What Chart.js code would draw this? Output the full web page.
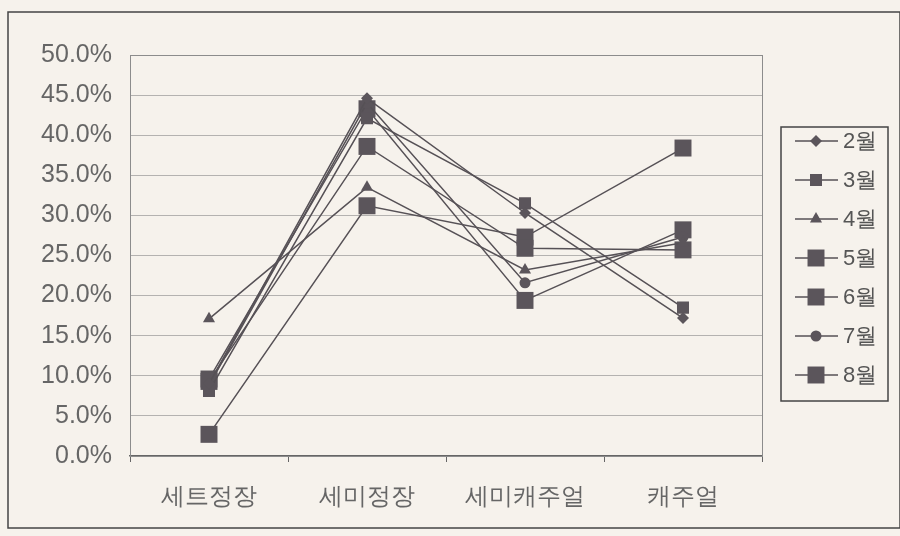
<!DOCTYPE html>
<html>
<head>
<meta charset="utf-8">
<script src="https://cdn.jsdelivr.net/npm/chart.js@4/dist/chart.umd.min.js"></script>
<style>
  body { margin: 0; background: #f6f2ec; }
  #wrap { width: 900px; height: 536px; }
</style>
</head>
<body>
<div id="wrap"><canvas id="grafico" width="900" height="536"></canvas></div>
<script>
// categorias e valores (%) por mês
var categorias = ['세트정장', '세미정장', '세미캐주얼', '캐주얼'];
var meses = ['2월', '3월', '4월', '5월', '6월', '7월', '8월'];
var fev = [9.0, 44.6, 30.3, 17.2];
var mar = [8.1, 42.1, 31.5, 18.5];
var abr = [17.1, 33.5, 23.2, 26.6];
var mai = [9.3, 38.6, 25.9, 25.7];
var jun = [2.7, 31.2, 27.3, 38.4];
var jul = [8.8, 44.0, 21.6, 27.3];
var ago = [9.6, 43.3, 19.4, 28.2];
var eixoY = [0, 5, 10, 15, 20, 25, 30, 35, 40, 45, 50];

var valores = [fev, mar, abr, mai, jun, jul, ago];
// estilo do marcador de cada série
var marcas = [
  { estilo: 'rectRot', raio: 6 },
  { estilo: 'rect', raio: 8.5 },
  { estilo: 'triangle', raio: 7 },
  { estilo: 'rect', raio: 12 },
  { estilo: 'rect', raio: 12 },
  { estilo: 'circle', raio: 5.5 },
  { estilo: 'rect', raio: 12 }
];

var corLinha = '#565156';
var corMarca = '#5b555b';
var fonte = '"Liberation Sans", Arial, sans-serif';

var datasets = meses.map(function (m, i) {
  return {
    label: m,
    data: valores[i],
    borderColor: corLinha,
    borderWidth: 1.5,
    pointStyle: marcas[i].estilo,
    pointRadius: marcas[i].raio,
    pointBackgroundColor: corMarca,
    pointBorderColor: corMarca,
    pointBorderWidth: 0,
    tension: 0
  };
});

// moldura externa, borda da área do gráfico e legenda com linha + marcador
var molduras = {
  id: 'molduras',
  beforeDraw: function (chart) {
    var ctx = chart.ctx;
    ctx.save();
    ctx.fillStyle = '#f6f2ec';
    ctx.fillRect(0, 0, chart.width, chart.height);
    ctx.strokeStyle = '#444';
    ctx.lineWidth = 1.5;
    ctx.strokeRect(8, 12, 892, 516);
    ctx.restore();
  },
  afterDraw: function (chart) {
    var ctx = chart.ctx;
    var a = chart.chartArea;
    ctx.save();
    ctx.strokeStyle = '#8c8c8c';
    ctx.lineWidth = 1;
    ctx.strokeRect(a.left + 0.5, a.top + 0.5, a.right - a.left, a.bottom - a.top);

    // legenda
    var lx = 781, ly = 127, lw = 107, lh = 274;
    ctx.strokeStyle = '#444';
    ctx.lineWidth = 1.5;
    ctx.strokeRect(lx, ly, lw, lh);
    ctx.font = '22px ' + fonte;
    ctx.textBaseline = 'middle';
    meses.forEach(function (m, i) {
      var y = 141 + i * 39;
      ctx.strokeStyle = corLinha;
      ctx.lineWidth = 1.5;
      ctx.beginPath();
      ctx.moveTo(795, y);
      ctx.lineTo(838, y);
      ctx.stroke();
      ctx.fillStyle = corMarca;
      ctx.strokeStyle = corMarca;
      Chart.helpers.drawPoint(ctx, {
        pointStyle: marcas[i].estilo,
        radius: marcas[i].raio,
        rotation: 0,
        borderWidth: 0
      }, 816, y);
      ctx.fillStyle = '#555';
      ctx.fillText(m, 843, y + 1);
    });
    ctx.restore();
  }
};

new Chart(document.getElementById('grafico'), {
  type: 'line',
  data: { labels: categorias, datasets: datasets },
  plugins: [molduras],
  options: {
    responsive: false,
    animation: false,
    layout: { padding: { left: 0, top: 55, right: 138, bottom: 0 } },
    plugins: {
      legend: { display: false },
      tooltip: { enabled: false }
    },
    scales: {
      x: {
        offset: true,
        grid: {
          offset: true,
          drawOnChartArea: false,
          drawTicks: true,
          tickLength: 6,
          color: '#666'
        },
        border: { color: '#666', width: 1.5 },
        ticks: {
          color: '#666',
          padding: 21,
          font: { family: fonte, size: 24 }
        },
        afterFit: function (s) { s.height = 80; }
      },
      y: {
        min: 0,
        max: 50,
        afterBuildTicks: function (s) {
          s.ticks = eixoY.map(function (v) { return { value: v }; });
        },
        grid: { color: '#b4b2b0', drawTicks: false },
        border: { display: false },
        ticks: {
          color: '#666',
          padding: 18,
          font: { family: fonte, size: 25 },
          callback: function (v) { return v.toFixed(1) + '%'; }
        },
        afterFit: function (s) { s.width = 130; }
      }
    }
  }
});
</script>
</body>
</html>
